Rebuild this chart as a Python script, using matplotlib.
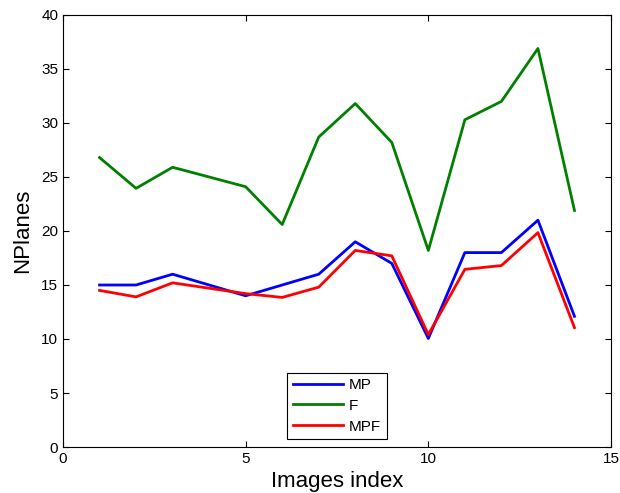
import matplotlib
matplotlib.use('Agg')
import matplotlib.pyplot as plt

# image index and number of planes found per method
idx = [1, 2, 3, 4, 5, 6, 7, 8, 9, 10, 11, 12, 13, 14]
mp  = [15, 15, 16, 15, 14, 15, 16, 19, 17, 10.05, 18, 18, 21, 12.1]
f   = [26.8, 23.95, 25.9, 25.0, 24.1, 20.6, 28.7, 31.8, 28.2, 18.2, 30.3, 32.0, 36.9, 21.9]
mpf = [14.5, 13.9, 15.2, 14.7, 14.2, 13.85, 14.8, 18.2, 17.7, 10.4, 16.45, 16.8, 19.85, 11.05]

plt.rcParams['font.family'] = ['Liberation Sans', 'DejaVu Sans']

fig = plt.figure(figsize=(6.2, 4.93), dpi=100)
ax = fig.add_axes([0.1016, 0.0933, 0.8839, 0.8763])

ax.plot(idx, mp, color=(0, 0, 1), linewidth=2, label='MP')
ax.plot(idx, f, color=(0, 0.5, 0), linewidth=2, label='F')
ax.plot(idx, mpf, color=(1, 0, 0), linewidth=2, label='MPF')

ax.set_xlim(0, 15)
ax.set_ylim(0, 40)
ax.set_xticks([0, 5, 10, 15])
ax.set_yticks(range(0, 41, 5))
ax.tick_params(direction='in', top=True, right=True, labelsize=11, length=4)
ax.set_xlabel('Images index', fontsize=16, labelpad=4)
ax.set_ylabel('NPlanes', fontsize=16, labelpad=6)

leg = ax.legend(loc='lower center', bbox_to_anchor=(0.5, 0.0185), borderaxespad=0,
                fontsize=11, fancybox=False, framealpha=1, edgecolor='black',
                handlelength=3.3, labelspacing=0.45, borderpad=0.35, handletextpad=0.4)
leg.get_frame().set_linewidth(0.8)

fig.savefig('out.png', dpi=100)
